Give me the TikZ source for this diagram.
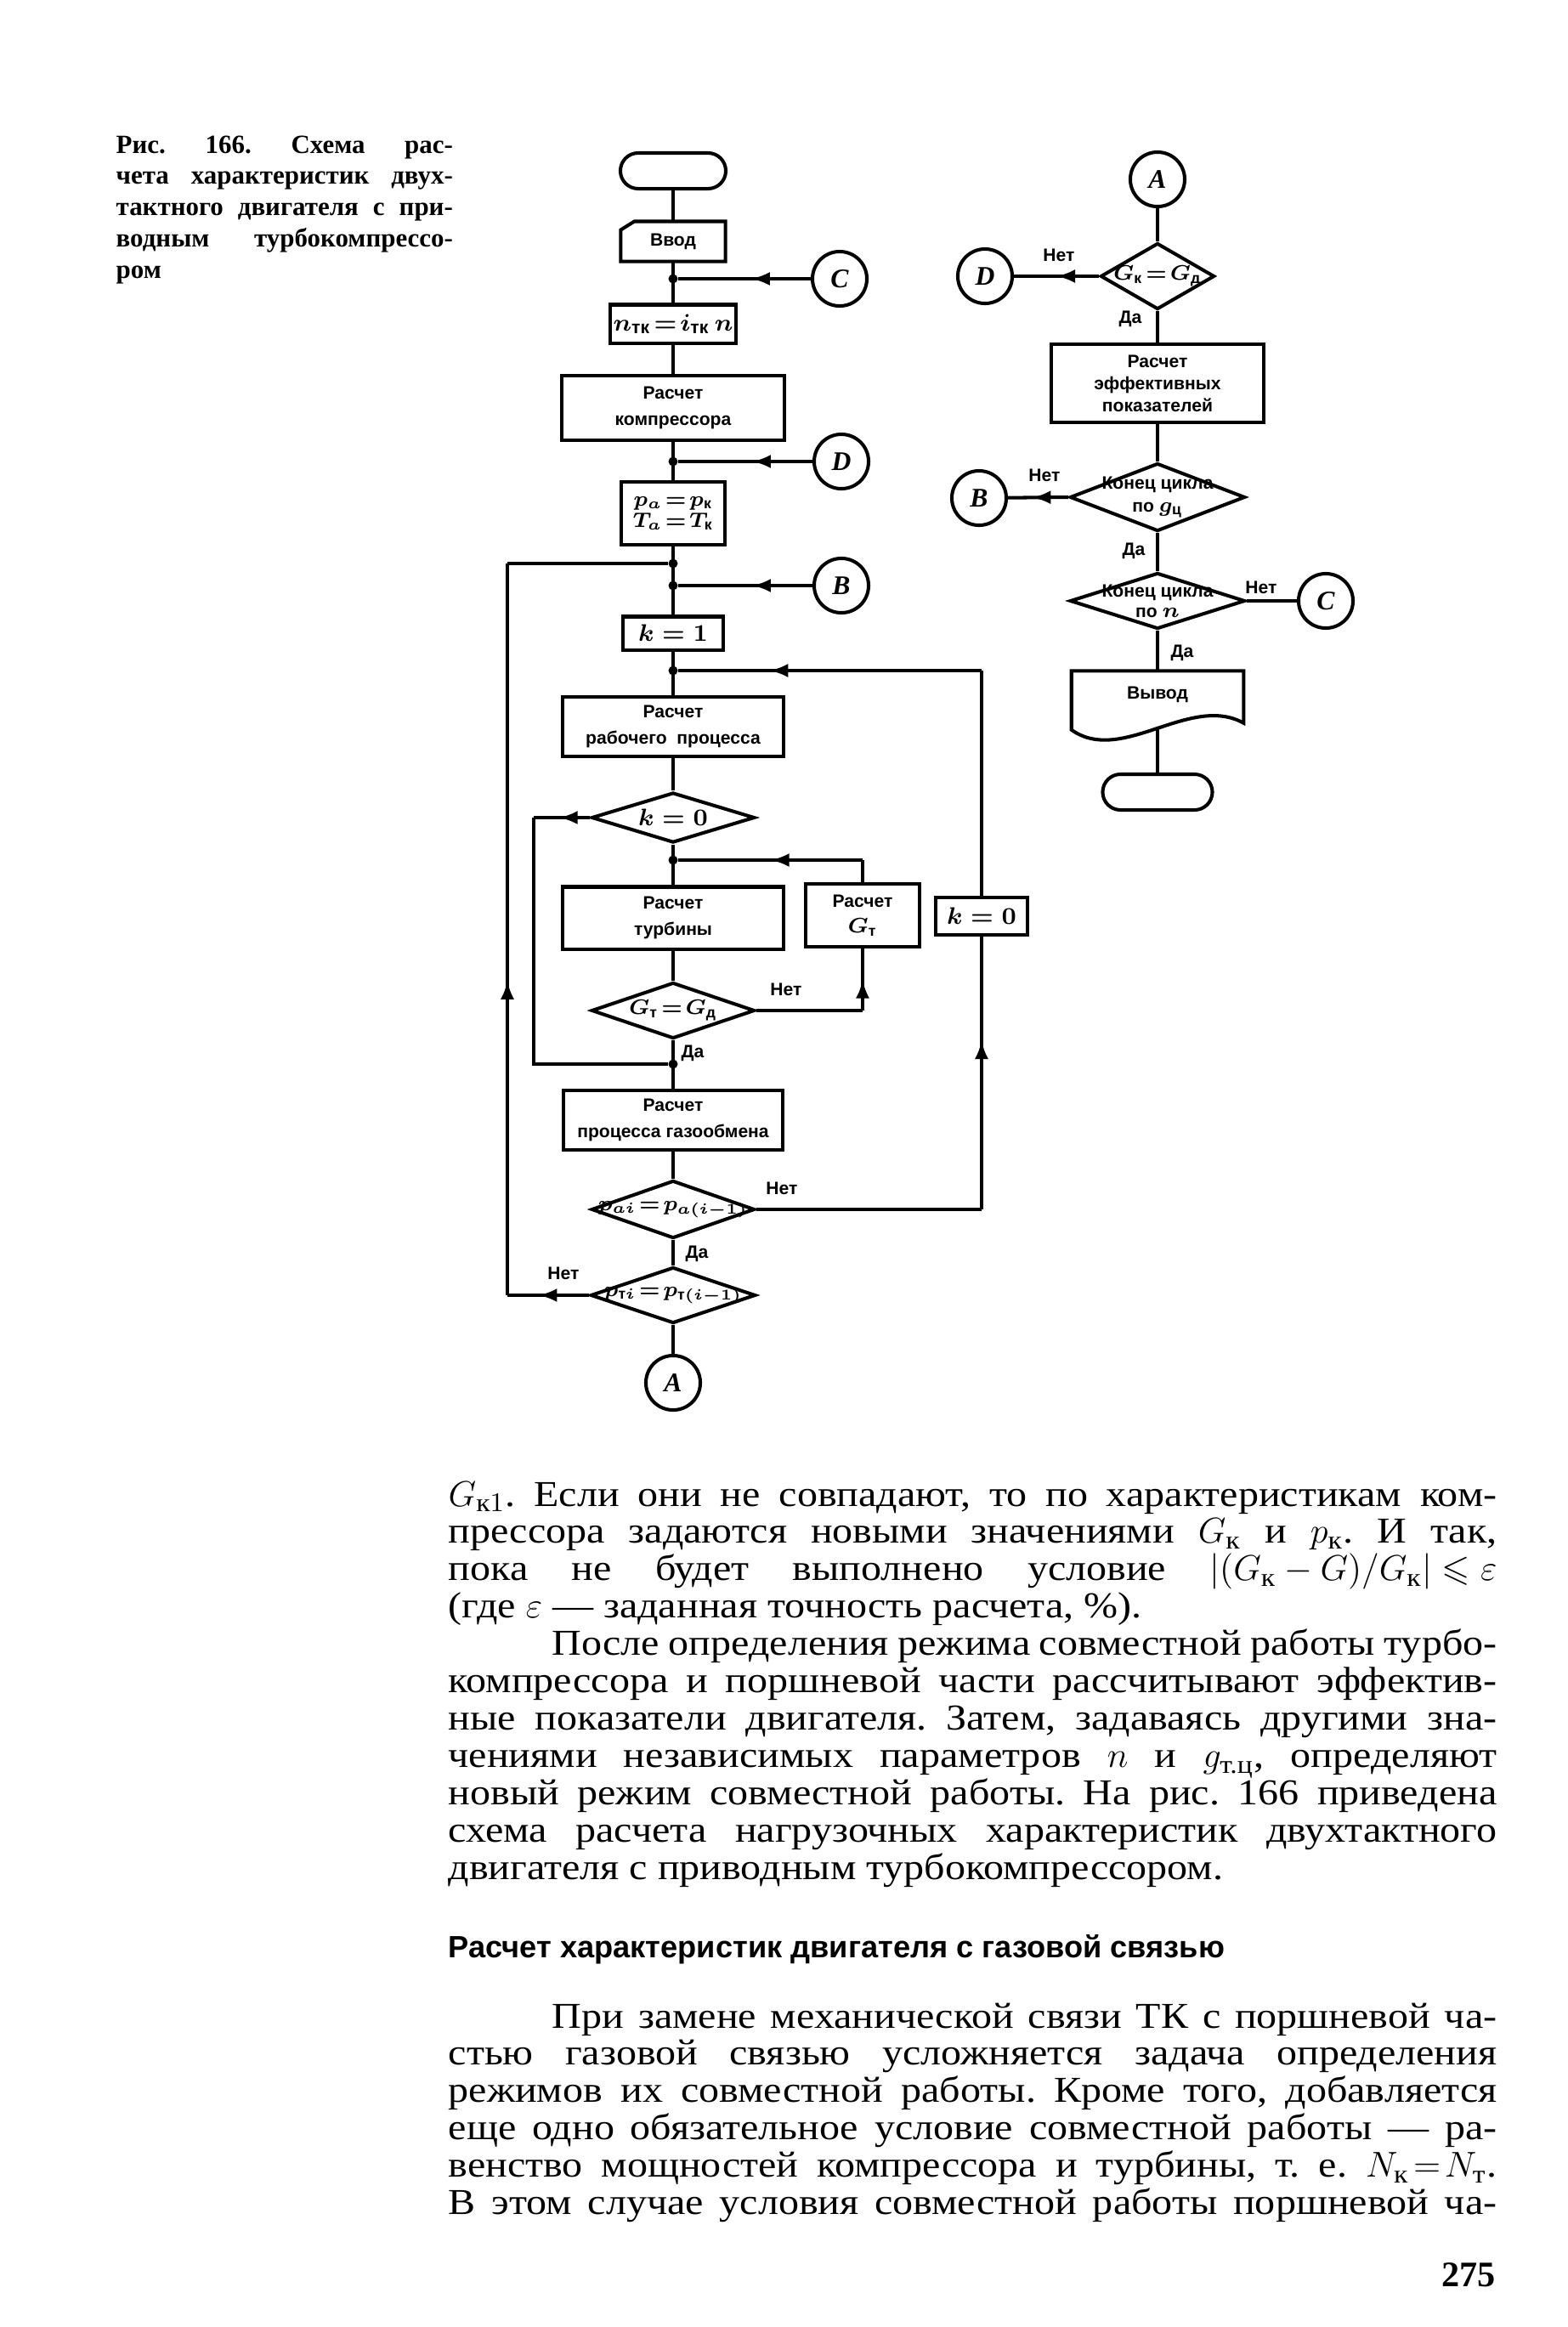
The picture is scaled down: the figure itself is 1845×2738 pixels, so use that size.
\documentclass[tikz,border=0pt]{standalone}
\usepackage{fontspec}
\usepackage{amsmath}
\usepackage{amssymb}
\setmainfont{Liberation Serif}
\newfontfamily\chartfont{Liberation Sans}
\newfontfamily\bodyfont[FakeStretch=1.12]{Liberation Serif}
\usetikzlibrary{
  arrows.meta,
  shapes.geometric,
  positioning,
  calc,
  decorations.markings
}
\setlength{\parindent}{0pt}
\frenchspacing
\newlength{\bodyw}
\setlength{\bodyw}{12.33cm}
\newlength{\capw}
\setlength{\capw}{3.96cm}
\newcommand{\jline}[1]{\makebox[\bodyw][s]{\spaceskip=0pt\xspaceskip=0pt #1}}
\newcommand{\lastline}[1]{\makebox[\bodyw][l]{\spaceskip=0pt\xspaceskip=0pt #1}}
\newcommand{\capline}[1]{\makebox[\capw][s]{\spaceskip=0pt\xspaceskip=0pt #1}}
\newcommand{\chartlbl}{\chartfont\bfseries\boldmath\fontsize{6pt}{8.8pt}\selectfont}
\newcommand{\chartmath}{\chartfont\bfseries\boldmath\fontsize{8pt}{9pt}\selectfont}
\newcommand{\decmath}{\chartfont\bfseries\boldmath\fontsize{7pt}{8pt}\selectfont}
\tikzset{
  wire/.style={line width=1.15pt},
  arr/.style={wire, postaction={decorate},
    decoration={markings, mark=at position #1 with {\arrow{Latex[length=2.2mm,width=1.6mm]}}}},
  arr/.default=0.5,
  fcbox/.style={draw, line width=1.15pt, rectangle, align=center, inner sep=1pt, font=\chartlbl},
  fml/.style={fcbox, font=\chartmath},
  term/.style={fcbox, rounded corners=2.1mm},
  dec/.style={diamond, draw, line width=1.15pt, inner sep=0pt},
  conn/.style={circle, draw, line width=1.15pt, minimum size=6.4mm, inner sep=0pt,
    font=\fontsize{9pt}{10pt}\selectfont\bfseries\itshape},
  jdot/.style={circle, fill, inner sep=0pt, minimum size=1.1mm},
  yn/.style={font=\chartlbl, inner sep=0pt},
  bodytext/.style={anchor=base west, inner sep=0pt, text width=\bodyw, align=left,
    font=\bodyfont\fontsize{12.2pt}{12.5pt}\selectfont}
}

\begin{document}
\begin{tikzpicture}[x=0.01cm, y=-0.01cm]
  \useasboundingbox (0,0) rectangle (1845,2738);
  \fill[white] (0,0) rectangle (1845,2738);

  % caption
  \node[anchor=base west, inner sep=0pt, text width=\capw, align=left,
        font=\bfseries\fontsize{8.8pt}{10.5pt}\selectfont] (cap) at (136,180)
    {\capline{Рис. 166. Схема рас-}\\
     \capline{чета характеристик двух-}\\
     \capline{тактного двигателя с при-}\\
     \capline{водным турбокомпрессо-}\\
     \makebox[\capw][l]{ром}};

  % left column
  \node[term, minimum width=1.24cm, minimum height=0.42cm] (start) at (792,201) {};
  \node[fcbox, draw=none, minimum width=1.19cm, minimum height=0.43cm] (inp) at (792,284) {Ввод};
  \draw[wire] ($(inp.north west)+(0,10)$) -- ($(inp.north west)+(16,0)$) -- (inp.north east)
    -- (inp.south east) -- (inp.south west) -- cycle;
  \node[jdot] (jC) at (792,328) {};
  \node[conn] (cC) at (988,328) {C};
  \node[fml, minimum width=1.24cm, minimum height=0.45cm] (ntk) at (792,381)
    {$n_{\text{тк}}\!=\!i_{\text{тк}}\,n$};
  \node[fcbox, minimum width=2.62cm, minimum height=0.76cm] (comp) at (792,480)
    {Расчет\\компрессора};
  \node[jdot] (jD) at (792,543) {};
  \node[conn] (cD) at (990,543) {D};
  \node[fcbox, font=\decmath, minimum width=1.22cm, minimum height=0.74cm, inner sep=0pt] (pa) at (792,604)
    {$p_a\!=\!p_{\text{к}}$\\[-1pt]$T_a\!=\!T_{\text{к}}$};
  \node[jdot] (jL) at (792,663) {};
  \node[jdot] (jB) at (792,689) {};
  \node[conn] (cB) at (990,689) {B};
  \node[fml, minimum width=1.17cm, minimum height=0.39cm] (k1) at (792,745) {$k=1$};
  \node[jdot] (jK) at (792,789) {};
  \node[fcbox, minimum width=2.6cm, minimum height=0.7cm] (work) at (792,855)
    {Расчет\\рабочего\ \ процесса};
  \node[dec, minimum width=1.92cm, minimum height=0.59cm,
        label={[font=\chartmath]center:$k=0$}] (dk0) at (792,962) {};
  \coordinate (kl) at (628,962);
  \node[jdot] (jG) at (792,1012) {};
  \node[fcbox, minimum width=2.6cm, minimum height=0.73cm] (turb) at (792,1080)
    {Расчет\\турбины};
  \node[fcbox, minimum width=1.34cm, minimum height=0.74cm] (gt) at (1015,1077)
    {Расчет\\{\decmath$G_{\text{т}}$}};
  \node[fml, minimum width=1.07cm, minimum height=0.44cm] (k0) at (1155,1078) {$k=0$};
  \node[dec, minimum width=1.92cm, minimum height=0.66cm,
        label={[font=\decmath]center:$G_{\text{т}}\!=\!G_{\text{д}}$}] (dgt) at (792,1189) {};
  \node[jdot] (jDa) at (792,1252) {};
  \node[fcbox, minimum width=2.58cm, minimum height=0.7cm] (gas) at (792,1318)
    {Расчет\\процесса газообмена};
  \node[dec, minimum width=1.92cm, minimum height=0.68cm,
        label={[font=\decmath]center:$p_{ai}\!=\!p_{a(i-1)}$}] (dpa) at (792,1423) {};
  \node[dec, minimum width=1.94cm, minimum height=0.66cm,
        label={[font=\decmath]center:$p_{\text{т}i}\!=\!p_{\text{т}(i-1)}$}] (dpt) at (792,1524) {};
  \node[conn] (cA) at (792,1627) {A};

  % left column links
  \draw[wire] (start) -- (inp);
  \draw[wire] (inp) -- (ntk);
  \draw[arr=0.45] (cC) -- (jC);
  \draw[wire] (ntk) -- (comp);
  \draw[wire] (comp) -- (pa);
  \draw[arr=0.45] (cD) -- (jD);
  \draw[wire] (pa) -- (k1);
  \draw[arr=0.45] (cB) -- (jB);
  \draw[wire] (k1) -- (work);
  \coordinate (kt) at (k0 |- jK);
  \draw[wire] (k0) -- (kt);
  \draw[arr=0.7] (kt) -- (jK);
  \draw[wire] (work) -- (dk0);
  \draw[arr=0.55] (dk0.west) -- (kl);
  \draw[wire] (kl) |- (jDa);
  \draw[wire] (dk0) -- (turb);
  \coordinate (gtt) at (gt |- jG);
  \draw[wire] (gt) -- (gtt);
  \draw[arr=0.5] (gtt) -- (jG);
  \draw[wire] (turb) -- (dgt);
  \coordinate (gr) at (gt |- dgt);
  \draw[wire] (dgt.east) -- (gr);
  \draw[arr] (gr) -- (gt.south);
  \draw[wire] (dgt) -- (gas);
  \draw[wire] (gas) -- (dpa);
  \coordinate (pr) at (k0 |- dpa);
  \draw[wire] (dpa.east) -- (pr);
  \draw[arr=0.62] (pr) -- (k0.south);
  \draw[wire] (dpa) -- (dpt);
  \coordinate (pl) at (597,1524);
  \coordinate (ptop) at (597,663);
  \draw[arr=0.62] (dpt.west) -- (pl);
  \draw[arr=0.43] (pl) -- (ptop);
  \draw[wire] (ptop) -- (jL);
  \draw[wire] (dpt) -- (cA);

  \node[yn] (no1) at (925,1164) {Нет};
  \node[yn] (yes1) at (815,1239) {Да};
  \node[yn] (no2) at (920,1398) {Нет};
  \node[yn] (yes2) at (820,1475) {Да};
  \node[yn] (no3) at (663,1498) {Нет};

  % right column
  \node[conn] (rA) at (1362,211) {A};
  \node[dec, minimum width=1.34cm, minimum height=0.78cm,
        label={[font=\decmath]center:$G_{\text{к}}\!=\!G_{\text{д}}$}] (dgk) at (1362,325) {};
  \node[conn] (rD) at (1159,325) {D};
  \node[fcbox, minimum width=2.5cm, minimum height=0.92cm, font=\chartlbl\fontsize{6pt}{7.4pt}\selectfont] (eff) at (1362,451)
    {Расчет\\эффективных\\показателей};
  \node[dec, minimum width=2.06cm, minimum height=0.8cm,
        label={[font=\chartlbl, align=center]center:Конец цикла\\[-1pt]по {\decmath$g_{\text{ц}}$}}] (dgc) at (1362,585) {};
  \node[conn] (rB) at (1152,586) {B};
  \node[dec, minimum width=2.06cm, minimum height=0.66cm,
        label={[font=\chartlbl, align=center]center:Конец цикла\\[-2pt]по {\decmath$n$}}] (dn) at (1362,707) {};
  \node[conn] (rC) at (1560,707) {C};
  \node[draw=none, minimum width=2.01cm, minimum height=0.78cm, inner sep=0pt,
        label={[font=\chartlbl, yshift=1.2mm]center:Вывод}] (outp) at (1362,829) {};
  \draw[wire] (outp.north west) -- (outp.north east) -- ($(outp.south east)+(0,-18)$)
    .. controls ($(outp.south)+(38,-53)$) and ($(outp.south)+(-42,32)$) .. ($(outp.south west)+(0,-10)$)
    -- cycle;
  \coordinate (outb) at ($(outp.south)+(0,-11)$);
  \node[term, minimum width=1.29cm, minimum height=0.42cm] (stop) at (1362,932) {};

  % right column links
  \draw[wire] (rA) -- (dgk);
  \draw[arr=0.5] (dgk.west) -- (rD);
  \draw[wire] (dgk) -- (eff);
  \draw[wire] (eff) -- (dgc);
  \draw[arr=0.6] (dgc.west) -- (rB);
  \draw[wire] (dgc) -- (dn);
  \draw[wire] (dn.east) -- (rC);
  \draw[wire] (dn) -- (outp.north);
  \draw[wire] (outb) -- (stop);

  \node[yn] (no4) at (1246,300) {Нет};
  \node[yn] (yes4) at (1330,375) {Да};
  \node[yn] (no5) at (1229,559) {Нет};
  \node[yn] (yes5) at (1334,648) {Да};
  \node[yn] (no6) at (1484,691) {Нет};
  \node[yn] (yes6) at (1391,768) {Да};

  % page text
  \node[bodytext] (body) at (527,1772)
    {\jline{\mbox{$G_{\text{к}1}$}. Если они не совпадают, то по характеристикам ком-}\\
     \jline{прессора задаются новыми значениями \mbox{$G_{\text{к}}$} и \mbox{$p_{\text{к}}$}. И так,}\\
     \jline{пока не будет выполнено условие \mbox{$\lvert(G_{\text{к}}-G)/G_{\text{к}}\rvert\leqslant\varepsilon$}}\\
     \lastline{(где $\varepsilon$ — заданная точность расчета, \%).}\\
     \jline{\hspace*{1.22cm}После определения режима совместной работы турбо-}\\
     \jline{компрессора и поршневой части рассчитывают эффектив-}\\
     \jline{ные показатели двигателя. Затем, задаваясь другими зна-}\\
     \jline{чениями независимых параметров \mbox{$n$} и \mbox{$g_{\text{т.ц}}$}, определяют}\\
     \jline{новый режим совместной работы. На рис. 166 приведена}\\
     \jline{схема расчета нагрузочных характеристик двухтактного}\\
     \lastline{двигателя с приводным турбокомпрессором.}};
  \node[anchor=base west, inner sep=0pt, font=\chartfont\bfseries\fontsize{10.3pt}{12pt}\selectfont]
    (head) at (527,2303) {Расчет характеристик двигателя с газовой связью};
  \node[bodytext] (body2) at (527,2386)
    {\jline{\hspace*{1.22cm}При замене механической связи ТК с поршневой ча-}\\
     \jline{стью газовой связью усложняется задача определения}\\
     \jline{режимов их совместной работы. Кроме того, добавляется}\\
     \jline{еще одно обязательное условие совместной работы — ра-}\\
     \jline{венство мощностей компрессора и турбины, т. е. \mbox{$N_{\text{к}}\!=\!N_{\text{т}}$}.}\\
     \jline{В этом случае условия совместной работы поршневой ча-}};
  \node[anchor=base east, inner sep=0pt, font=\bfseries\fontsize{12pt}{14pt}\selectfont]
    (pnum) at (1760,2690) {275};
\end{tikzpicture}
\end{document}
